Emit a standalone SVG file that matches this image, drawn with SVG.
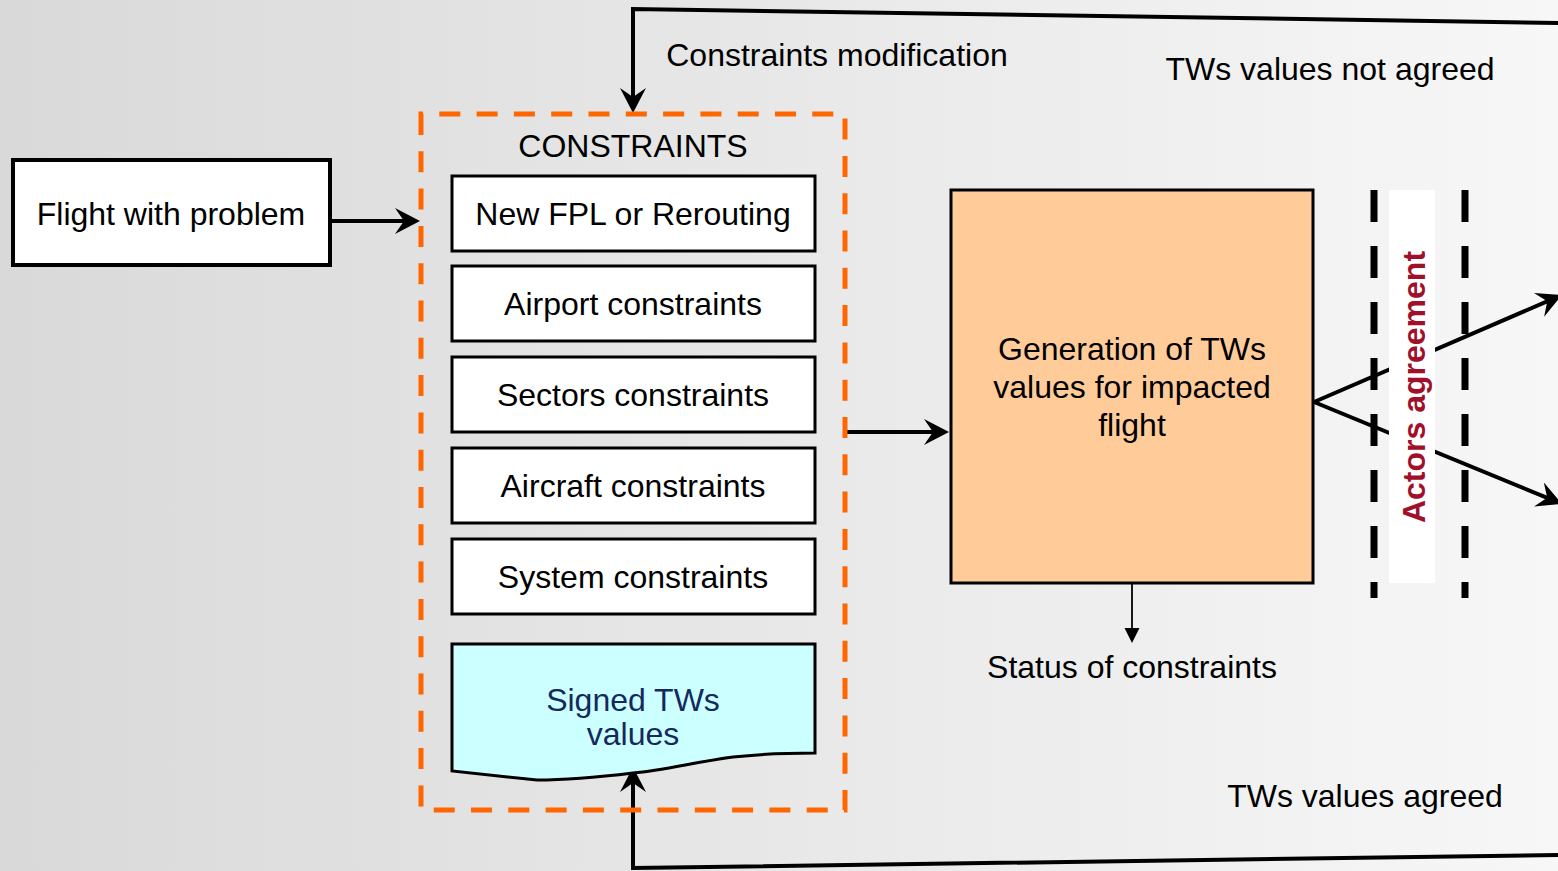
<svg xmlns="http://www.w3.org/2000/svg" width="1558" height="871" viewBox="0 0 1558 871">
  <defs>
    <linearGradient id="bg" x1="0" y1="0" x2="1" y2="0">
      <stop offset="0" stop-color="#d9d9d9"/>
      <stop offset="1" stop-color="#f7f7f7"/>
    </linearGradient>
    <marker id="ah" markerUnits="userSpaceOnUse" markerWidth="26" markerHeight="26" viewBox="0 0 26 26" refX="17" refY="13" orient="auto">
      <path d="M0,0 L25,13 L0,26 L9,13 Z" fill="#000"/>
    </marker>
    <marker id="tri" markerUnits="userSpaceOnUse" markerWidth="16" markerHeight="16" viewBox="0 0 16 16" refX="13" refY="8" orient="auto">
      <path d="M0,0.5 L15,8 L0,15.5 Z" fill="#000"/>
    </marker>
    <style>
      .t { font-family: "Liberation Sans", Arial, sans-serif; font-size: 32px; fill: #000; text-anchor: middle; }
      .box { fill: #fff; stroke: #000; stroke-width: 3; }
      .conn { fill: none; stroke: #000; stroke-width: 4; stroke-linejoin: miter; marker-end: url(#ah); }
      .vdash { fill: none; stroke: #000; stroke-width: 7; stroke-dasharray: 32 24; }
    </style>
  </defs>

  <rect x="0" y="0" width="1558" height="871" fill="url(#bg)"/>

  <g id="connectors">
    <path class="conn" d="M331,221 H412"/>
    <path class="conn" d="M846,432 H941"/>
    <path class="conn" d="M1564,23 L633,9 V105"/>
    <path class="conn" d="M1564,855 L633,868 V775"/>
    <path class="conn" d="M1314,402 L1554.6,298.2"/>
    <path class="conn" d="M1314,402 L1554.6,500.9"/>
    <path d="M1132,583 V641" fill="none" stroke="#000" stroke-width="1.8" marker-end="url(#tri)"/>
  </g>

  <g id="flight">
    <rect x="13" y="160" width="317" height="105" fill="#fff" stroke="#000" stroke-width="4"/>
    <text class="t" x="171" y="225">Flight with problem</text>
  </g>

  <g id="constraints">
    <path d="M421,114 V810 H845 V114 Z" fill="none" stroke="#ff6600" stroke-width="5" stroke-dasharray="21 16.3"/>
    <text class="t" x="633" y="157">CONSTRAINTS</text>
  </g>

  <g id="new-fpl">
    <rect class="box" x="452" y="176" width="363" height="75"/>
    <text class="t" x="633" y="225">New FPL or Rerouting</text>
  </g>
  <g id="airport">
    <rect class="box" x="452" y="266" width="363" height="75"/>
    <text class="t" x="633" y="315">Airport constraints</text>
  </g>
  <g id="sectors">
    <rect class="box" x="452" y="357" width="363" height="75"/>
    <text class="t" x="633" y="406">Sectors constraints</text>
  </g>
  <g id="aircraft">
    <rect class="box" x="452" y="448" width="363" height="75"/>
    <text class="t" x="633" y="497">Aircraft constraints</text>
  </g>
  <g id="system">
    <rect class="box" x="452" y="539" width="363" height="75"/>
    <text class="t" x="633" y="588">System constraints</text>
  </g>

  <g id="signed">
    <path d="M452,644 H815 V753 C790,753 760,754 733,757 C695,762 665,770 633,773 C600,777 570,780 537,780 L452,771 Z" fill="#ccffff" stroke="#000" stroke-width="3"/>
    <text class="t" x="633" y="711" style="fill:#14295c">Signed TWs</text>
    <text class="t" x="633" y="745" style="fill:#14295c">values</text>
  </g>

  <g id="generation">
    <rect x="951" y="190" width="362" height="393" fill="#ffcc99" stroke="#000" stroke-width="3"/>
    <text class="t" x="1132" y="360">Generation of TWs</text>
    <text class="t" x="1132" y="398">values for impacted</text>
    <text class="t" x="1132" y="436">flight</text>
  </g>

  <g id="agreement">
    <rect x="1389" y="190" width="46" height="393" fill="#fff"/>
    <line class="vdash" x1="1374" y1="190" x2="1374" y2="598"/>
    <line class="vdash" x1="1465" y1="190" x2="1465" y2="598"/>
    <text class="t" transform="translate(1425,387) rotate(-90)" x="0" y="0" style="fill:#a0102a;font-weight:bold">Actors agreement</text>
  </g>

  <g id="labels">
    <text class="t" x="837" y="66">Constraints modification</text>
    <text class="t" x="1330" y="80">TWs values not agreed</text>
    <text class="t" x="1132" y="678">Status of constraints</text>
    <text class="t" x="1365" y="807">TWs values agreed</text>
  </g>
</svg>
